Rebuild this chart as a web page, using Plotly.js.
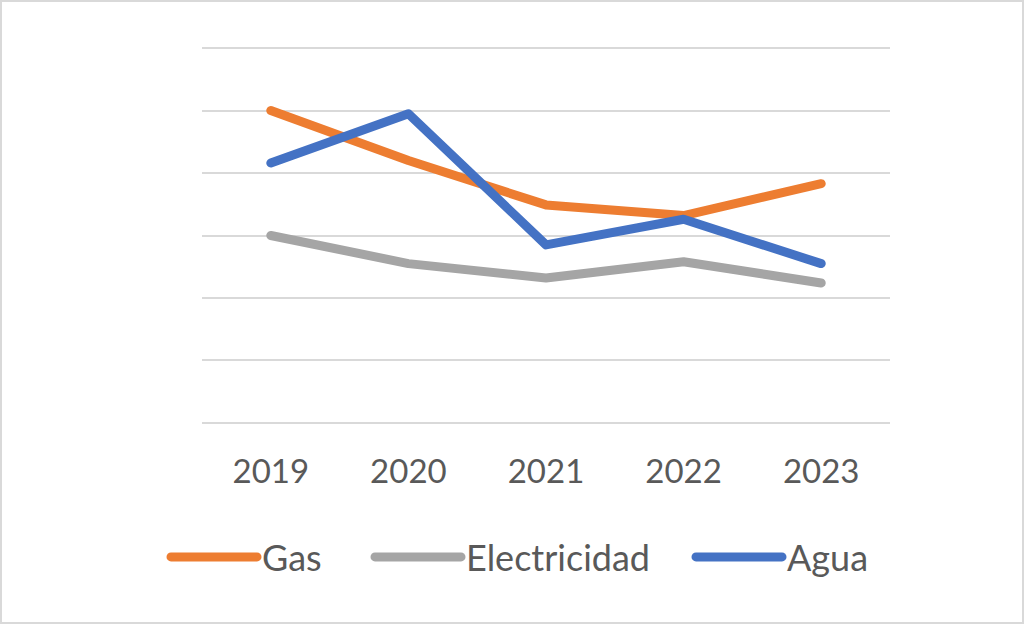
<!DOCTYPE html>
<html>
<head>
<meta charset="utf-8">
<script src="https://cdn.plot.ly/plotly-3.0.1.min.js"></script>
<style>
html,body{margin:0;padding:0;background:#fff;}
#chart{width:1024px;height:624px;box-sizing:border-box;border:2px solid #d9d9d9;}
#chart path.js-line{stroke-linecap:round !important;stroke-linejoin:round !important;}
</style>
</head>
<body>
<div id="chart"></div>
<script>
const years = ['2019','2020','2021','2022','2023'];
const gas = [5.0, 4.2, 3.49, 3.32, 3.83];
const electricidad = [3.0, 2.55, 2.32, 2.58, 2.24];
const agua = [4.16, 4.95, 2.85, 3.26, 2.55];

const seriesNames = ['Gas','Electricidad','Agua'];
const seriesColors = ['#ED7D31','#A5A5A5','#4472C4'];
const seriesValues = [gas, electricidad, agua];
const legendIds = ['legend','legend2','legend3'];

const traces = seriesValues.map((vals, i) => ({
  x: years, y: vals, type: 'scatter', mode: 'lines', name: seriesNames[i],
  legend: legendIds[i],
  line: {color: seriesColors[i], width: 9}
}));

const W = 1020, H = 620;
const mL = 200, mR = 132, mT = 43, mB = 196;
const pw = W - mL - mR, ph = H - mT - mB;
function legendAt(px) {
  return {orientation: 'h', x: (px - 2 - mL) / pw, xanchor: 'left',
          y: (H - mB - (557 - 2)) / ph, yanchor: 'middle',
          font: {size: 36, color: '#595959'}, itemwidth: 86, bgcolor: 'rgba(0,0,0,0)'};
}
const layout = {
  width: W, height: H,
  margin: {l: mL, r: mR, t: mT, b: mB, pad: 0},
  paper_bgcolor: '#ffffff', plot_bgcolor: '#ffffff',
  font: {family: 'Lato, Carlito, sans-serif', color: '#595959', size: 33},
  showlegend: true,
  legend: legendAt(166),
  legend2: legendAt(370),
  legend3: legendAt(691),
  xaxis: {type: 'category', range: [-0.5, 4.5], showgrid: false, zeroline: false,
          showline: false, ticks: 'outside', ticklen: 16, tickcolor: 'rgba(0,0,0,0)',
          tickfont: {size: 33, color: '#595959'}, automargin: false},
  yaxis: {range: [-0.05, 6.05], dtick: 1, tick0: 0, showgrid: true, gridcolor: '#d9d9d9', gridwidth: 2,
          zeroline: false, showline: false, showticklabels: false, ticks: '', automargin: false}
};
Plotly.newPlot('chart', traces, layout, {displayModeBar: false, staticPlot: true});
</script>
</body>
</html>
